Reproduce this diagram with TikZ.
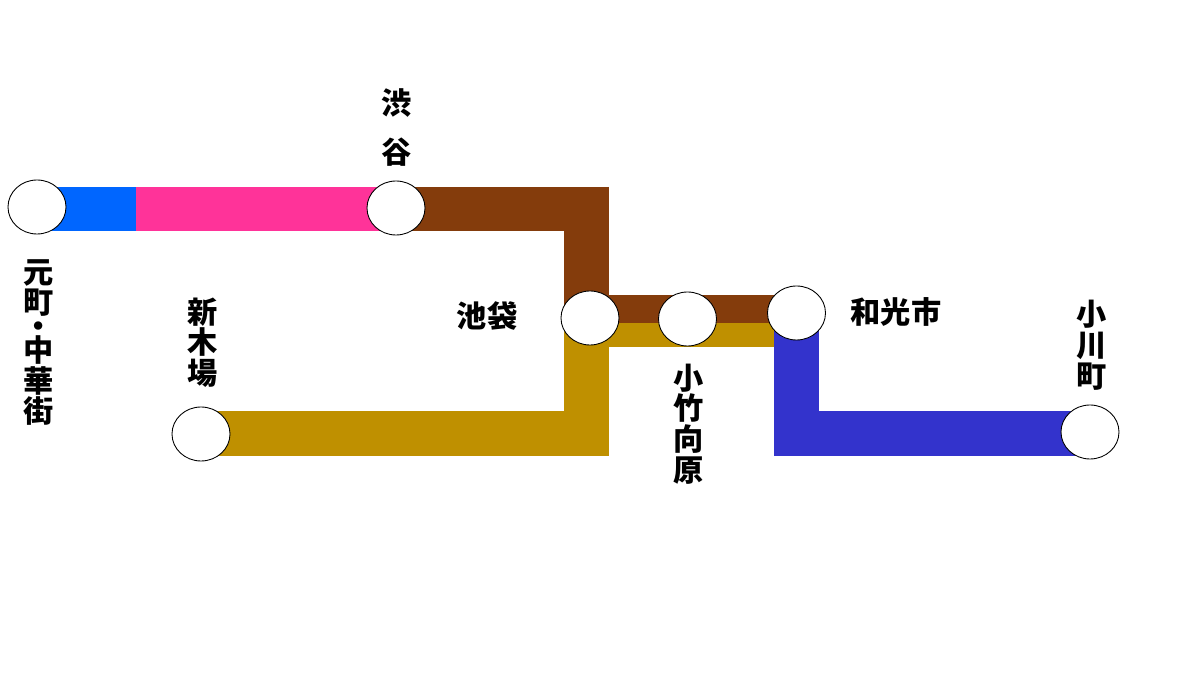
\documentclass[tikz,border=0pt]{standalone}
\usepackage{fontspec}
\newfontfamily\jpfont{Noto Sans CJK JP}
\usetikzlibrary{shapes.geometric, backgrounds}
\definecolor{lineblue}{HTML}{0066FF}
\definecolor{linepink}{HTML}{FF3399}
\definecolor{linebrown}{HTML}{843C0C}
\definecolor{linegold}{HTML}{BF9000}
\definecolor{lineindigo}{HTML}{3333CC}
\tikzset{
  station/.style={draw=black, line width=0.25pt, fill=white, ellipse, inner sep=0pt, minimum width=0.58cm, minimum height=0.54cm},
  stationname/.style={font=\jpfont\bfseries\fontsize{8.6}{8.75}\selectfont, align=center, inner sep=0pt},
  wideline/.style={line width=0.45cm},
  topline/.style={line width=0.44cm},
  thinbrown/.style={line width=0.28cm, linebrown},
  thingold/.style={line width=0.24cm, linegold}
}
\begin{document}
\begin{tikzpicture}
\useasboundingbox (0,0) rectangle (12,6.9);

\node[station] (motomachi) at (0.37,4.83) {};
\node[station] (shibuya) at (3.96,4.82) {};
\node[station] (ikebukuro) at (5.90,3.72) {};
\node[station] (kotake) at (6.875,3.71) {};
\node[station] (wako) at (7.965,3.77) {};
\node[station] (shinkiba) at (2.01,2.56) {};
\node[station] (ogawamachi) at (10.90,2.58) {};

% turning points of the lines
\coordinate (topstart) at (0.37,4.81);
\coordinate (topsplit) at (1.36,4.81);
\coordinate (topshibuya) at (3.96,4.81);
\coordinate (topcorner) at (5.865,4.81);
\coordinate (brownend) at (5.865,3.60);
\coordinate (brownleft) at (5.90,3.81);
\coordinate (brownright) at (7.965,3.81);
\coordinate (goldleft) at (5.90,3.55);
\coordinate (goldright) at (7.80,3.55);
\coordinate (goldstart) at (2.01,2.565);
\coordinate (goldcorner) at (5.865,2.565);
\coordinate (goldend) at (5.865,3.60);
\coordinate (indigotop) at (7.965,3.70);
\coordinate (indigocorner) at (7.965,2.565);
\coordinate (indigoend) at (10.90,2.565);

\begin{scope}[on background layer]
\draw[topline, lineblue] (topstart) -- (topsplit);
\draw[topline, linepink] (topsplit) -- (topshibuya);
\draw[wideline, linegold] (goldstart) -- (goldcorner) -- (goldend);
\draw[topline, linebrown] (topshibuya) -- (topcorner);
\draw[wideline, linebrown] (topcorner) ++(0,0.22) -- (brownend);
\draw[thinbrown] (brownleft) -- (brownright);
\draw[thingold] (goldleft) -- (goldright);
\draw[wideline, lineindigo] (indigotop) -- (indigocorner) -- (indigoend);
\end{scope}

\node[stationname] (shibuyaname) at (3.965,5.625) {渋\\[5.4pt]谷};
\node[stationname] (motomachiname) at (0.39,3.475) {元\\町\\[-2pt]・\\[-2pt]中\\華\\街};
\node[stationname] (shinkibaname) at (2.03,3.475) {新\\木\\場};
\node[stationname] (ikebukuroname) at (4.87,3.74) {池袋};
\node[stationname] (kotakename) at (6.89,2.66) {小\\竹\\向\\原};
\node[stationname] (wakoname) at (8.96,3.78) {和光市};
\node[stationname] (ogawamachiname) at (10.915,3.45) {小\\川\\町};
\end{tikzpicture}
\end{document}
